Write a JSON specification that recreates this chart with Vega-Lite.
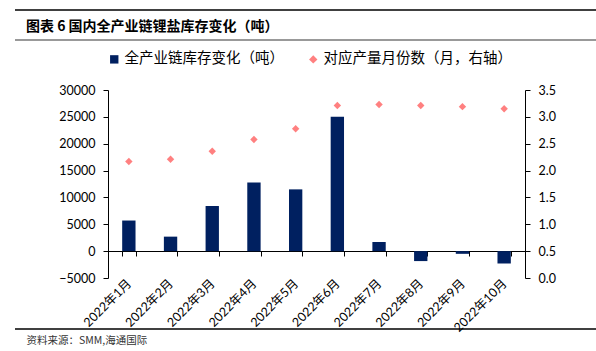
{
  "$schema": "https://vega.github.io/schema/vega-lite/v6.json",
  "width": 581,
  "height": 188,
  "autosize": {"type": "none"},
  "padding": {"left": 15, "top": 90, "right": 0, "bottom": 73},
  "background": "white",
  "title": {
    "text": "图表 6 国内全产业链锂盐库存变化（吨）",
    "anchor": "start",
    "frame": "group",
    "orient": "top",
    "offset": -32,
    "dx": 11,
    "baseline": "middle",
    "font": "Noto Sans CJK SC",
    "fontSize": 14,
    "fontWeight": "bold",
    "color": "#000000"
  },
  "config": {
    "view": {"stroke": null},
    "axis": {"grid": false, "labelOverlap": false, "domainColor": "#000000", "tickColor": "#000000", "labelColor": "#000000", "domainWidth": 1, "tickWidth": 1},
    "legend": {
      "orient": "none",
      "legendX": 92,
      "legendY": -38,
      "direction": "horizontal",
      "title": null,
      "labelFont": "Noto Sans CJK SC",
      "labelFontSize": 14.5,
      "labelColor": "#000000",
      "labelLimit": 400,
      "columnPadding": 22,
      "labelOffset": 3,
      "symbolSize": 70
    }
  },
  "data": {
    "values": [
      {"month": "2022年1月", "series": "全产业链库存变化（吨）", "value": 5700},
      {"month": "2022年2月", "series": "全产业链库存变化（吨）", "value": 2700},
      {"month": "2022年3月", "series": "全产业链库存变化（吨）", "value": 8400},
      {"month": "2022年4月", "series": "全产业链库存变化（吨）", "value": 12800},
      {"month": "2022年5月", "series": "全产业链库存变化（吨）", "value": 11500},
      {"month": "2022年6月", "series": "全产业链库存变化（吨）", "value": 25000},
      {"month": "2022年7月", "series": "全产业链库存变化（吨）", "value": 1700},
      {"month": "2022年8月", "series": "全产业链库存变化（吨）", "value": -1850},
      {"month": "2022年9月", "series": "全产业链库存变化（吨）", "value": -500},
      {"month": "2022年10月", "series": "全产业链库存变化（吨）", "value": -2300},
      {"month": "2022年1月", "series": "对应产量月份数（月，右轴）", "value": 2.17},
      {"month": "2022年2月", "series": "对应产量月份数（月，右轴）", "value": 2.21},
      {"month": "2022年3月", "series": "对应产量月份数（月，右轴）", "value": 2.36},
      {"month": "2022年4月", "series": "对应产量月份数（月，右轴）", "value": 2.58},
      {"month": "2022年5月", "series": "对应产量月份数（月，右轴）", "value": 2.78},
      {"month": "2022年6月", "series": "对应产量月份数（月，右轴）", "value": 3.21},
      {"month": "2022年7月", "series": "对应产量月份数（月，右轴）", "value": 3.23},
      {"month": "2022年8月", "series": "对应产量月份数（月，右轴）", "value": 3.21},
      {"month": "2022年9月", "series": "对应产量月份数（月，右轴）", "value": 3.19},
      {"month": "2022年10月", "series": "对应产量月份数（月，右轴）", "value": 3.15}
    ]
  },
  "layer": [
    {
      "transform": [{"filter": "datum.series === '全产业链库存变化（吨）'"}],
      "mark": {"type": "bar"},
      "encoding": {
        "x": {
          "field": "month",
          "type": "nominal",
          "sort": ["2022年1月", "2022年2月", "2022年3月", "2022年4月", "2022年5月", "2022年6月", "2022年7月", "2022年8月", "2022年9月", "2022年10月"],
          "scale": {"range": [93, 510], "paddingInner": 0.68, "paddingOuter": 0.34},
          "axis": {
            "orient": "top",
            "offset": -161,
            "domain": true,
            "ticks": true,
            "tickBand": "extent",
            "tickSize": -5,
            "labelAngle": -45,
            "labelAlign": "right",
            "labelBaseline": "middle",
            "labelPadding": -25,
            "labelFont": "Lato, Noto Sans CJK SC",
            "labelFontSize": 12.5,
            "title": "资料来源：SMM,海通国际",
            "titleX": 11,
            "titleY": 89,
            "titleAngle": 0,
            "titleAlign": "left",
            "titleBaseline": "middle",
            "titleFont": "Noto Sans CJK SC",
            "titleFontSize": 10.5,
            "titleFontWeight": "normal",
            "titleColor": "#333333"
          }
        },
        "y": {
          "field": "value",
          "type": "quantitative",
          "scale": {"domain": [-5000, 30000], "nice": false},
          "axis": {
            "orient": "right",
            "offset": -488,
            "domain": true,
            "ticks": true,
            "title": null,
            "values": [-5000, 0, 5000, 10000, 15000, 20000, 25000, 30000],
            "format": "d",
            "tickSize": -5,
            "labelAlign": "right",
            "labelPadding": -8,
            "labelFont": "Lato",
            "labelFontSize": 12.5
          }
        },
        "color": {
          "field": "series",
          "type": "nominal",
          "scale": {"domain": ["全产业链库存变化（吨）", "对应产量月份数（月，右轴）"], "range": ["#002060", "#FF8080"]}
        }
      }
    },
    {
      "transform": [{"filter": "datum.series === '对应产量月份数（月，右轴）'"}],
      "mark": {"type": "point", "filled": true, "opacity": 1, "size": 55},
      "encoding": {
        "x": {
          "field": "month",
          "type": "nominal",
          "sort": ["2022年1月", "2022年2月", "2022年3月", "2022年4月", "2022年5月", "2022年6月", "2022年7月", "2022年8月", "2022年9月", "2022年10月"]
        },
        "y": {
          "field": "value",
          "type": "quantitative",
          "scale": {"domain": [0, 3.5], "nice": false},
          "axis": {
            "orient": "right",
            "offset": -71,
            "title": null,
            "values": [0, 0.5, 1, 1.5, 2, 2.5, 3, 3.5],
            "format": ".1f",
            "tickSize": 5,
            "labelPadding": 8,
            "labelFont": "Lato",
            "labelFontSize": 12.5
          }
        },
        "color": {"field": "series", "type": "nominal"},
        "shape": {
          "field": "series",
          "type": "nominal",
          "scale": {"domain": ["全产业链库存变化（吨）", "对应产量月份数（月，右轴）"], "range": ["square", "diamond"]}
        }
      }
    },
    {
      "data": {"values": [{}]},
      "mark": {"type": "rule", "color": "#000000", "strokeWidth": 1.3},
      "encoding": {"y": {"datum": 44894, "type": "quantitative", "scale": {"domain": [-5000, 30000], "nice": false}, "axis": null}}
    },
    {
      "data": {"values": [{}]},
      "mark": {"type": "rule", "color": "#999999", "strokeWidth": 2},
      "encoding": {"y": {"datum": 39309, "type": "quantitative", "scale": {"domain": [-5000, 30000], "nice": false}, "axis": null}}
    },
    {
      "data": {"values": [{}]},
      "mark": {"type": "rule", "color": "#000000", "strokeWidth": 1.3},
      "encoding": {"y": {"datum": -14495, "type": "quantitative", "scale": {"domain": [-5000, 30000], "nice": false}, "axis": null}}
    }
  ],
  "resolve": {"scale": {"y": "independent"}}
}
